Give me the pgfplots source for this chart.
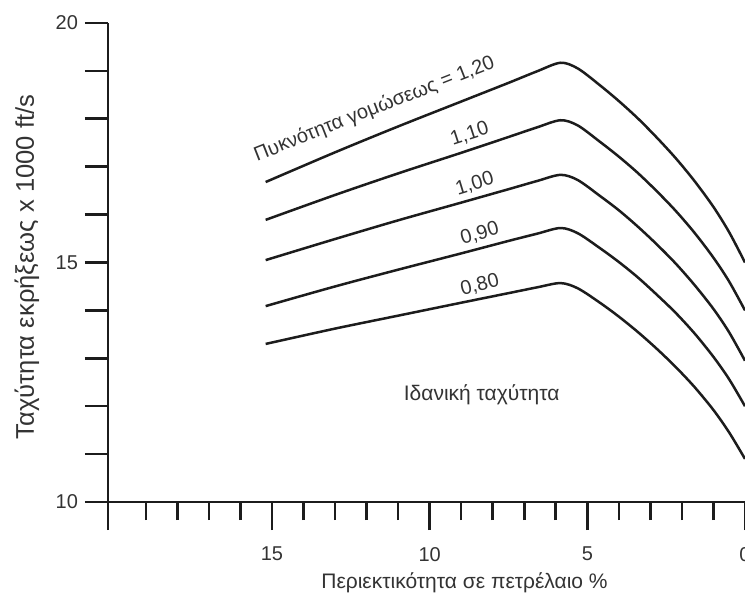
\documentclass[border=0pt]{standalone}
\usepackage{fontspec}
\setmainfont{Liberation Sans}
\usepackage{pgfplots}
\pgfplotsset{compat=1.18}
\usetikzlibrary{calc}
\definecolor{ink}{HTML}{1C1C1C}
\definecolor{txt}{HTML}{333333}

\newcommand{\fs}[1]{\fontsize{#1}{#1}\selectfont}

\begin{document}
\begin{tikzpicture}
% main axis: curves and the y axis with its ticks
\begin{axis}[
  name=main,
  scale only axis,
  width=318.5pt, height=239.5pt,
  x dir=reverse,
  xmin=0, xmax=20.2, ymin=10, ymax=20,
  axis x line=bottom, axis y line=left,
  axis line style={-, line width=1.3pt, draw=ink},
  xtick=\empty,
  ytick={10,11,...,20},
  yticklabels={10,,,,,15,,,,,20},
  tick align=outside,
  major tick length=11.5pt,
  every tick/.style={line width=1.3pt, draw=ink},
  tick label style={font=\fs{10}, text=txt},
  /pgf/number format/assume math mode=true,
  clip=false,
]
% loading density 1.20
\addplot[ink, line width=1.25pt, smooth] coordinates {
  (15.2,16.68) (13.0,17.30) (11.0,17.84) (9.0,18.36) (7.5,18.75) (6.6,18.99)
  (5.85,19.17) (5.3,19.05) (4.6,18.70) (4.0,18.37) (3.4,18.01)
  (2.8,17.61) (2.2,17.18) (1.6,16.70) (1.0,16.16) (0.5,15.63) (0,15.00)};
% 1.10
\addplot[ink, line width=1.25pt, smooth] coordinates {
  (15.2,15.89) (13.0,16.41) (11.0,16.86) (9.0,17.29) (7.5,17.62) (6.6,17.82)
  (5.85,17.97) (5.3,17.86) (4.6,17.52) (4.0,17.21) (3.4,16.87)
  (2.8,16.49) (2.2,16.08) (1.6,15.62) (1.0,15.10) (0.5,14.60) (0,14.00)};
% 1.00
\addplot[ink, line width=1.25pt, smooth] coordinates {
  (15.2,15.05) (13.0,15.49) (11.0,15.88) (9.0,16.25) (7.5,16.53) (6.6,16.70)
  (5.85,16.83) (5.3,16.72) (4.6,16.39) (4.0,16.09) (3.4,15.75)
  (2.8,15.38) (2.2,14.98) (1.6,14.53) (1.0,14.03) (0.5,13.54) (0,12.95)};
% 0.90
\addplot[ink, line width=1.25pt, smooth] coordinates {
  (15.2,14.09) (13.0,14.50) (11.0,14.85) (9.0,15.19) (7.5,15.45) (6.6,15.60)
  (5.85,15.72) (5.3,15.61) (4.6,15.30) (4.0,15.01) (3.4,14.69)
  (2.8,14.33) (2.2,13.95) (1.6,13.52) (1.0,13.03) (0.5,12.56) (0,12.00)};
% 0.80
\addplot[ink, line width=1.25pt, smooth] coordinates {
  (15.2,13.30) (13.0,13.62) (11.0,13.89) (9.0,14.16) (7.5,14.36) (6.6,14.48)
  (5.85,14.57) (5.3,14.46) (4.6,14.16) (4.0,13.87) (3.4,13.55)
  (2.8,13.20) (2.2,12.82) (1.6,12.40) (1.0,11.92) (0.5,11.45) (0,10.90)};

\node[text=txt, font=\fs{10}, rotate=21.5] at (axis cs:11.75,18.2) {Πυκνότητα γομώσεως = 1,20};
\node[text=txt, font=\fs{10}, rotate=18] at (axis cs:8.73,17.68) {1,10};
\node[text=txt, font=\fs{10}, rotate=17] at (axis cs:8.57,16.64) {1,00};
\node[text=txt, font=\fs{10}, rotate=16] at (axis cs:8.41,15.6) {0,90};
\node[text=txt, font=\fs{10}, rotate=14] at (axis cs:8.41,14.53) {0,80};
\node[text=txt, font=\fs{10.5}] at (axis cs:8.35,12.23) {Ιδανική ταχύτητα};
\end{axis}

% overlay axis: x ticks and their labels
\begin{axis}[
  scale only axis,
  width=318.5pt, height=239.5pt,
  x dir=reverse,
  xmin=0, xmax=20.2, ymin=10, ymax=20,
  axis x line=bottom, axis y line=none,
  axis line style={draw=none},
  xtick={0,5,10,15},
  minor xtick={1,2,3,4,6,7,8,9,11,12,13,14,16,17,18,19},
  extra x ticks={20.2}, extra x tick labels={},
  tick align=outside,
  major tick length=14pt, minor tick length=9pt,
  every tick/.style={line width=1.3pt, draw=ink},
  tick label style={font=\fs{10}, text=txt},
  xticklabel style={yshift=-5pt},
  /pgf/number format/assume math mode=true,
]
\end{axis}

\node[text=txt, font=\fs{12.8}, rotate=90] at ($(main.south west)+(-40.5pt,117.5pt)$) {Ταχύτητα εκρήξεως x 1000 ft/s};
\node[text=txt, font=\fs{10.5}] at ($(main.south)+(19pt,-40.5pt)$) {Περιεκτικότητα σε πετρέλαιο \%};

\pgfresetboundingbox
\path[use as bounding box] ($(main.south west)+(-54pt,-51.5pt)$) rectangle ($(main.north east)+(0,11.5pt)$);
\end{tikzpicture}
\end{document}
